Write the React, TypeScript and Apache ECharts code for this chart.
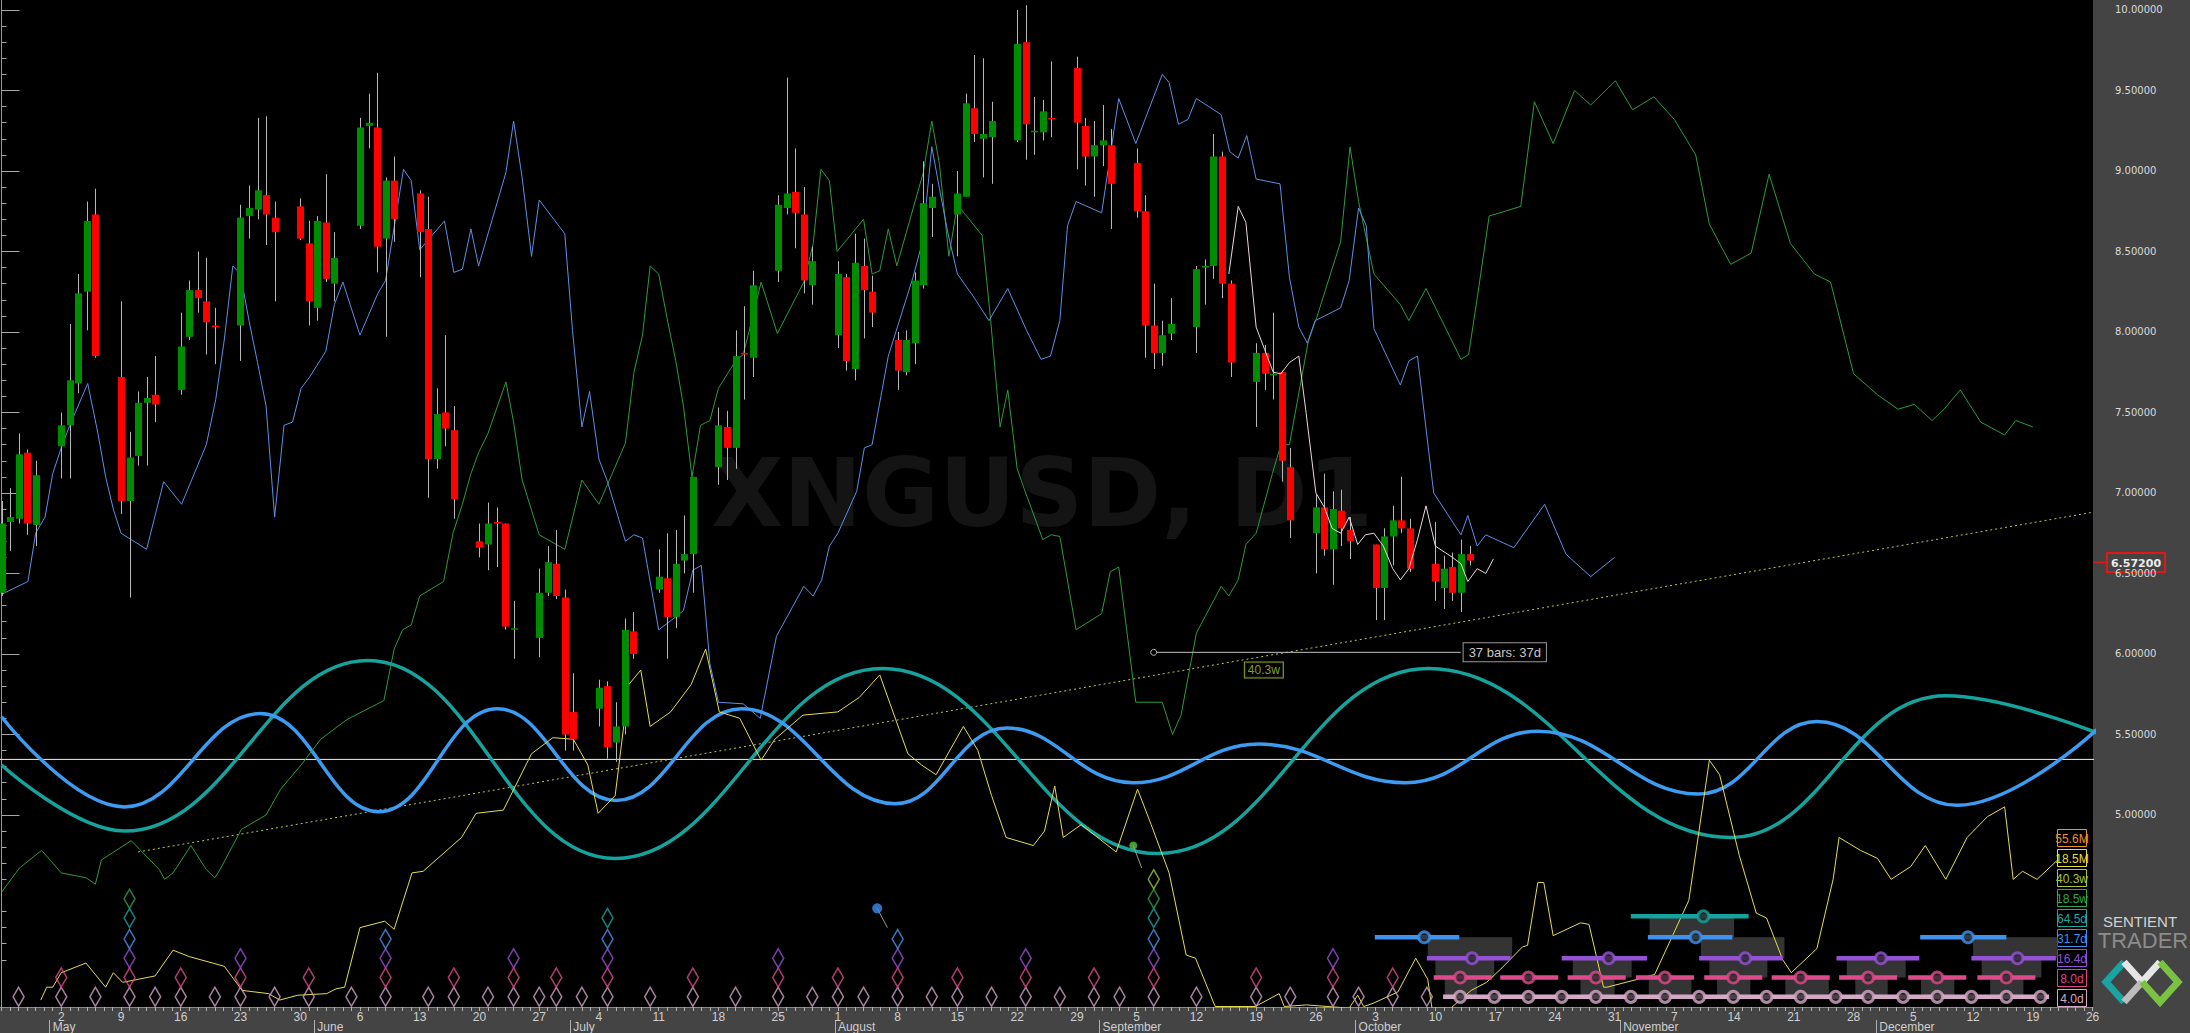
import React, { useEffect, useRef } from "react";
import * as echarts from "echarts";

// ---------- calendar ----------
const BASE = Date.UTC(2022, 3, 25); // day 0 = 25 Apr 2022
const dayOf = (s: string) =>
  Math.round((Date.UTC(2022, +s.slice(0, 2) - 1, +s.slice(3, 5)) - BASE) / 86400000);
const MONTHS = ["January","February","March","April","May","June","July","August","September","October","November","December"];

const X_MIN = -0.176;
const X_MAX = 245.05;
const Y_MIN = 3.807;
const Y_MAX = 10.062;

// ---------- candles ----------
const candleDates = [
  "04-25","04-26","04-27","04-28","04-29",
  "05-02","05-03","05-04","05-05","05-06",
  "05-09","05-10","05-11","05-12","05-13",
  "05-16","05-17","05-18","05-19","05-20",
  "05-23","05-24","05-25","05-26","05-27",
  "05-30","05-31","06-01","06-02","06-03",
  "06-06","06-07","06-08","06-09","06-10",
  "06-13","06-14","06-15","06-16","06-17",
  "06-20","06-21","06-22","06-23","06-24",
  "06-27","06-28","06-29","06-30","07-01",
  "07-04","07-05","07-06","07-07","07-08",
  "07-11","07-12","07-13","07-14","07-15",
  "07-18","07-19","07-20","07-21","07-22",
  "07-25","07-26","07-27","07-28","07-29",
  "08-01","08-02","08-03","08-04","08-05",
  "08-08","08-09","08-10","08-11","08-12",
  "08-15","08-16","08-17","08-18","08-19",
  "08-22","08-23","08-24","08-25","08-26",
  "08-29","08-30","08-31","09-01","09-02",
  "09-05","09-06","09-07","09-08","09-09",
  "09-12","09-13","09-14","09-15","09-16",
  "09-19","09-20","09-21","09-22","09-23",
  "09-26","09-27","09-28","09-29","09-30",
  "10-03","10-04","10-05","10-06","10-07",
  "10-10","10-11","10-12","10-13","10-14",
];
const opens = [
  6.38,6.82,6.84,7.25,6.80, 7.29,7.42,7.68,8.25,8.73, 7.72,6.95,7.23,7.56,7.61,
  7.64,7.97,8.26,8.19,8.04, 8.04,8.72,8.76,8.85,8.71, 8.78,8.55,8.15,8.68,8.30,
  8.66,9.28,9.27,8.58,8.94, 8.86,8.64,7.21,7.50,7.39, 6.70,6.68,6.82,6.81,6.16,
  6.10,6.38,6.56,6.35,5.64, 5.66,5.80,5.45,5.55,6.14, 6.40,6.47,6.23,6.58,6.62,
  7.16,7.41,7.28,7.87,7.84, 8.38,8.77,8.87,8.73,8.29, 7.98,8.34,7.77,8.41,8.25,
  7.95,7.75,7.93,8.29,8.77, 8.73,8.84,9.39,9.20,9.21, 9.19,9.80,9.24,9.24,9.33,
  9.64,9.28,9.09,9.16,9.16, 9.05,8.75,8.04,7.87,7.99, 8.03,8.40,8.41,9.09,8.30,
  7.69,7.87,7.74,7.75,7.16, 6.75,6.91,6.65,6.89,6.77, 6.68,6.41,6.73,6.83,6.78,
  6.56,6.41,6.54,6.38,6.62,
];
const highs = [
  6.95,7.03,7.37,7.27,7.20, 7.50,8.05,8.36,8.81,8.89, 8.19,7.38,7.63,7.72,7.85,
  8.12,8.32,8.50,8.46,8.15, 8.79,8.91,9.33,9.34,8.81, 8.83,8.69,8.72,8.98,8.62,
  9.33,9.48,9.61,8.96,9.09, 8.88,8.84,7.65,7.98,7.54, 6.81,6.94,6.91,6.81,6.33,
  6.53,6.67,6.77,6.40,5.88, 5.84,5.83,5.70,6.22,6.26, 6.65,6.75,6.77,6.86,7.10,
  7.53,7.51,8.01,8.16,8.38, 8.85,9.58,9.14,8.90,8.53, 8.44,8.36,8.61,8.58,8.35,
  8.00,8.01,8.37,9.06,8.92, 9.00,9.48,9.72,9.70,9.43, 10.00,10.03,9.46,9.44,9.68,
  9.71,9.33,9.31,9.41,9.26, 9.14,8.85,8.30,8.07,8.21, 8.41,8.45,9.23,9.12,8.32,
  7.93,7.92,8.12,7.76,7.28, 6.99,7.12,7.01,7.02,6.85, 6.68,6.78,6.92,7.10,6.84,
  6.82,6.61,6.63,6.71,6.67,
];
const lows = [
  6.36,6.64,6.81,6.74,6.67, 7.09,7.09,7.62,8.01,7.84, 6.87,6.35,7.17,7.17,7.44,
  7.61,7.95,8.12,7.86,7.80, 7.82,8.58,8.70,8.54,8.19, 8.57,8.04,8.07,8.31,8.19,
  8.64,9.14,8.37,7.97,8.56, 8.34,6.97,7.15,7.29,6.84, 6.60,6.52,6.54,6.15,5.97,
  5.98,6.36,6.34,5.40,5.40, 5.55,5.35,5.33,5.50,5.97, 6.38,5.97,6.16,6.50,6.38,
  7.05,7.08,7.15,7.58,7.72, 8.31,8.73,8.52,8.24,8.17, 7.90,7.76,7.70,7.96,8.03,
  7.64,7.73,7.80,8.27,8.59, 8.47,8.84,9.18,8.96,8.92, 9.18,9.07,9.10,9.19,9.21,
  9.01,8.91,8.84,9.03,8.64, 8.71,7.84,7.77,7.79,7.95, 7.87,8.17,8.33,8.21,7.72,
  7.41,7.64,7.58,7.07,6.72, 6.50,6.61,6.43,6.67,6.59, 6.21,6.21,6.55,6.75,6.51,
  6.33,6.28,6.33,6.26,6.55,
];
const closes = [
  6.81,6.85,7.24,6.81,7.11, 7.42,7.70,8.24,8.69,7.85, 6.95,7.22,7.56,7.59,7.55,
  7.91,8.26,8.21,8.06,8.03, 8.71,8.77,8.88,8.73,8.62, 8.58,8.19,8.69,8.33,8.46,
  9.27,9.30,8.53,8.94,8.70, 8.62,7.21,7.49,7.40,6.96, 6.66,6.81,6.81,6.17,6.16,
  6.38,6.57,6.36,5.50,5.47, 5.79,5.42,5.55,6.15,6.00, 6.48,6.23,6.56,6.62,7.10,
  7.42,7.28,7.85,7.86,8.29, 8.79,8.86,8.74,8.32,8.44, 8.36,7.82,8.43,8.26,8.12,
  7.76,7.95,8.32,8.80,8.84, 8.86,9.42,9.23,9.23,9.31, 9.79,9.29,9.25,9.37,9.32,
  9.30,9.09,9.16,9.19,8.92, 8.75,8.04,7.87,7.98,8.05, 8.39,8.41,9.09,8.30,7.81,
  7.87,7.74,7.74,7.20,6.83, 6.91,6.65,6.90,6.78,6.70, 6.41,6.73,6.83,6.78,6.53,
  6.45,6.53,6.38,6.62,6.58,
];

// ---------- FLD lines: [day, price] ----------
const blueFld = [[0,6.37],[3.1,6.45],[4,6.75],[5.1,6.85],[6,7.12],[7,7.28],[8,7.42],[10.1,7.68],[11.3,7.37],[12.2,7.10],[13.1,6.90],[14,6.75],[17,6.65],[19,7.07],[21.1,6.93],[24,7.30],[25.1,7.58],[26.1,7.95],[27.1,8.41],[28,8.36],[29,8.07],[30,7.81],[31,7.54],[32,6.85],[33.1,7.42],[34.1,7.44],[35.1,7.65],[36.1,7.72],[38,7.88],[39,8.17],[40,8.31],[42,7.98],[44.1,8.24],[45,8.32],[47.1,9.01],[48,8.94],[49,8.51],[51.9,8.69],[53,8.37],[54,8.39],[55,8.64],[55.9,8.41],[59.1,8.99],[60,9.31],[61,8.96],[62.1,8.47],[63,8.82],[66,8.61],[66.9,8.01],[68,7.41],[68.9,7.63],[70,7.21],[71,7.07],[73.1,6.70],[74.1,6.74],[75.1,6.72],[77,6.15],[79,6.23],[79.9,6.27],[81,6.52],[82,6.55],[83,5.94],[84,5.70],[86.9,5.69],[88.9,5.60],[90.8,6.11],[94,6.42],[95.1,6.36],[96.1,6.46],[97,6.67],[98,6.75],[100.2,7.01],[101.1,7.28],[102,7.30],[103.9,7.85],[106.8,8.34],[107.9,8.56],[109,9.15],[109.9,8.89],[110.9,8.61],[112,8.36],[114,8.21],[115.7,8.07],[117.9,8.27],[120.1,8.01],[121.8,7.83],[122.9,7.85],[124,8.07],[124.9,8.66],[125.9,8.81],[128.9,8.74],[130.9,9.45],[132.9,9.17],[136,9.60],[136.8,9.55],[137.9,9.29],[139,9.32],[140,9.45],[142.9,9.35],[143.9,9.12],[144.9,9.08],[145.9,9.22],[147,8.95],[149.8,8.92],[150.9,8.34],[152,8.03],[153,7.93],[153.9,8.07],[156.9,8.15],[157.9,8.32],[159,8.77],[159.9,8.66],[160.8,8.02],[163.9,7.67],[164.9,7.82],[165.9,7.85],[167.8,7.00],[171,6.74],[171.8,6.86],[172.9,6.67],[173.9,6.74],[177.2,6.66],[180.8,6.93],[183.3,6.62],[186.2,6.48],[189,6.60]];

const greenFld = [[0,4.52],[2.1,4.67],[4.7,4.78],[7,4.64],[9.9,4.61],[11,4.57],[11.7,4.72],[15.2,4.84],[18.5,4.66],[19.1,4.60],[20.1,4.64],[22.2,4.81],[24,4.66],[25,4.61],[25.6,4.66],[28.1,4.91],[31,5.00],[32.7,5.16],[35.1,5.31],[37.4,5.47],[40.4,5.59],[43.3,5.67],[44.8,5.71],[46,6.03],[47,6.15],[48,6.18],[49,6.36],[51.8,6.45],[52.9,6.75],[54,6.93],[55,7.12],[55.9,7.25],[57,7.37],[59.1,7.69],[60,7.44],[61,7.08],[63,6.74],[66,6.65],[68,7.08],[70,6.93],[73.1,7.31],[74.1,7.75],[75.1,7.98],[76,8.41],[77,8.36],[78,8.08],[79,7.82],[79.9,7.54],[80.9,7.10],[81.9,7.42],[83,7.45],[84,7.65],[86,7.82],[86.9,7.86],[88,8.09],[89,8.31],[90.9,7.99],[94,8.31],[95.1,8.55],[96,9.01],[97,8.94],[97.9,8.50],[101,8.70],[102,8.36],[102.9,8.38],[103.9,8.64],[104.9,8.41],[108,8.99],[109,9.31],[109.9,9.04],[111,8.47],[112,8.79],[114.9,8.60],[115.9,8.07],[117,7.41],[117.9,7.64],[119,7.15],[120,7.00],[122,6.71],[123,6.74],[124,6.73],[125.9,6.15],[128.9,6.25],[129.9,6.51],[130.9,6.54],[132.9,5.70],[136,5.70],[137.2,5.50],[138.2,5.62],[140,6.13],[142.9,6.42],[143.8,6.36],[144.9,6.46],[145.8,6.68],[147,6.75],[148.9,7.12],[149.9,7.30],[150.9,7.30],[153.1,7.94],[154.1,8.09],[156.9,8.56],[158,9.15],[159,8.81],[160.8,8.36],[163.9,8.17],[164.9,8.07],[166.9,8.27],[171,7.83],[171.9,7.86],[172.9,8.21],[174.3,8.72],[178,8.78],[179.6,9.43],[181.8,9.17],[184.3,9.50],[186.2,9.41],[189.1,9.56],[191.1,9.38],[193.6,9.46],[196,9.32],[198.5,9.10],[200.1,8.67],[202.6,8.42],[205,8.49],[207.1,8.98],[209.6,8.55],[212.4,8.36],[214.3,8.31],[217,7.74],[219.8,7.61],[222.2,7.52],[224.1,7.55],[226.2,7.45],[227.6,7.52],[229.5,7.64],[231.9,7.44],[234.7,7.36],[236,7.45],[238,7.41]];

const whiteFld = [[143.8,8.36],[144.9,8.78],[145.8,8.68],[147,8.03],[148,7.89],[149,7.75],[149.9,7.74],[150.9,7.81],[152,7.85],[152.8,7.52],[154,7.00],[155,6.91],[155.9,6.78],[156.9,6.75],[157.9,6.85],[158.9,6.68],[159.8,6.74],[160.8,6.75],[161.9,6.67],[163,6.53],[163.9,6.46],[164.9,6.53],[165.9,6.71],[166.9,6.92],[168,6.67],[170,6.60],[171,6.56],[171.8,6.45],[172.9,6.53],[173.9,6.50],[174.8,6.59]];

const yellowFld = [[4.6,3.85],[5.3,3.93],[6,3.93],[7,4.02],[9.9,4.08],[12.2,3.93],[13.1,4.02],[14.2,3.96],[18,4.00],[20.1,4.16],[22,4.12],[26.1,4.06],[28.2,3.91],[31.3,3.89],[32.6,3.85],[34.7,3.88],[38.1,3.89],[39.2,3.92],[40.2,3.93],[42,4.30],[44.9,4.34],[46,4.29],[48.1,4.64],[49.4,4.65],[53.9,4.86],[55.6,5.01],[58.8,5.03],[62.1,5.38],[64.6,5.48],[67,5.47],[68.7,5.31],[69.9,5.01],[71.9,5.12],[73.5,5.81],[74.9,5.90],[76,5.55],[78.4,5.64],[80.8,5.81],[82.5,6.03],[84.1,5.64],[86.5,5.60],[89,5.34],[90.6,5.47],[93.9,5.62],[98,5.64],[100.5,5.73],[102.9,5.87],[106.2,5.38],[107.8,5.31],[109.5,5.25],[112.7,5.55],[114.4,5.40],[116,5.12],[117.7,4.86],[120.9,4.81],[122.2,4.90],[123.4,5.18],[124.4,4.86],[126.5,4.94],[130.6,4.77],[133.1,5.16],[134.7,4.94],[136.8,4.64],[138.8,4.13],[139.9,4.11],[142.2,3.81],[146.9,3.81],[149.7,3.89],[150.3,3.81],[152.9,3.82],[157.9,3.80],[158.9,3.88],[159.6,3.81],[160.7,3.83],[163.6,3.90],[165.7,4.11],[167.1,3.98],[167.6,3.80],[169.8,3.80],[172.2,3.91],[174,3.96],[175.8,4.05],[178.2,4.18],[178.8,4.19],[180,4.58],[180.7,4.58],[181.8,4.25],[185,4.33],[186,4.32],[187.7,3.93],[188.1,3.93],[192.5,3.99],[193.7,4.01],[197.7,4.47],[200.1,5.34],[201.3,5.25],[203.6,4.75],[205.6,4.39],[206.8,4.36],[208.7,4.10],[209.7,4.02],[212.7,4.17],[214.6,4.60],[215.3,4.86],[217.8,4.78],[219.8,4.73],[221.4,4.60],[223.7,4.68],[225.4,4.81],[227.8,4.60],[230.3,4.86],[232.7,4.99],[234.7,5.05],[235.7,4.60],[236.8,4.65],[238.5,4.60],[240.9,4.72]];

// ---------- cycle waves (read extremes) ----------
const tealWave = [[0,5.31],[14.4,4.90],[42.9,5.96],[71.9,4.73],[103.2,5.91],[135.5,4.76],[167.2,5.91],[202.6,4.86],[227.8,5.74],[245.5,5.51]];
const blueWave = [[0,5.61],[14.4,5.05],[30.3,5.63],[44.2,5.02],[58.1,5.66],[72,5.09],[86.7,5.66],[104.7,5.07],[117.8,5.54],[132.6,5.20],[147.3,5.44],[164.5,5.20],[180,5.52],[198.8,5.13],[212.7,5.58],[229.1,5.06],[245.5,5.53]];

const baseLine = 5.345;
const trendLine = [[16,4.77],[245,6.88]];
const measureLine = [[135,6.01],[170.9,6.01]];

// ---------- diamonds (cycle troughs) ----------
const diamondRowPrices = [3.87, 3.99, 4.11, 4.23, 4.36, 4.48, 4.60];
const diamondColors = ["#cfa3c6", "#dd4b8c", "#9552d6", "#4a93ea", "#1fa3a0", "#2f9d4e", "#9cc43a"];
const diamondDays = [
  [2,7,11,15,18,21,25,28,32,36,41,45,50,53,57,60,63,65,68,71,76,81,86,91,95,98,101,105,109,112,116,120,124,128,131,135,140,147,151,156,159,163,167],
  [7,15,21,28,36,45,53,60,65,71,81,91,98,105,112,120,128,135,147,156,163],
  [15,28,45,60,71,91,105,120,135,156],
  [15,45,71,105,135],
  [15,71,135],
  [15,135],
  [135],
];

// ---------- projected cycle bars ----------
const cyclePrices = { c64: 4.37, c31: 4.24, c16: 4.11, c8: 3.99, c4: 3.87 };
const bars64 = [[190.9,204.7]];
const circles64 = [199.4];
const bars31 = [[160.9,170.8],[192.9,202.8],[224.8,234.9]];
const circles31 = [166.7,198.5,230.4];
const bars16 = [[167.0,176.8],[182.8,192.8],[198.9,208.7],[215.0,224.7],[230.8,240.7]];
const circles16 = [172.3,188.3,204.3,220.2,236.2];
const bars8 = [[167.8,174.6],[175.6,182.4],[183.5,190.3],[191.5,198.3],[199.5,206.3],[207.4,214.2],[215.3,222.1],[223.4,230.2],[231.5,238.3]];
const circles8 = [170.9,178.9,186.8,194.9,202.9,210.8,218.7,226.8,234.9];
const bars4 = [[168.9,239.9]];
const circles4 = [170.9,174.9,178.9,182.8,186.8,190.9,194.9,198.9,202.9,206.8,210.8,214.9,218.7,222.8,226.8,230.8,234.9,238.9];
const shadeBoxes = [
  [167.1,177.0,4.24,4.11],[168.0,174.9,4.11,3.99],[169.1,172.9,3.99,3.86],
  [184.1,191.0,4.11,3.99],[185.0,189.0,3.99,3.86],
  [193.1,203.0,4.37,4.24],[199.1,208.9,4.24,4.11],[200.1,206.9,4.11,3.99],[201.0,204.9,3.99,3.86],
  [193.0,198.0,3.99,3.86],[209.0,214.1,3.99,3.86],
  [216.2,223.1,4.11,3.99],[217.2,221.0,3.99,3.86],[224.9,228.8,3.99,3.86],
  [231.0,240.9,4.24,4.11],[232.0,239.0,4.11,3.99],[233.0,236.9,3.99,3.86],
];

// ---------- axis ticks ----------
const xTickDates = ["05-02","05-09","05-16","05-23","05-30","06-06","06-13","06-20","06-27","07-04","07-11","07-18","07-25","08-01","08-08","08-15","08-22","08-29","09-05","09-12","09-19","09-26","10-03","10-10","10-17","10-24","10-31","11-07","11-14","11-21","11-28","12-05","12-12","12-19","12-26"];
const monthDates = ["05-01","06-01","07-01","08-01","09-01","10-01","11-01","12-01"];
const priceLabels = [5.0,5.5,6.0,6.5,7.0,7.5,8.0,8.5,9.0,9.5,10.0];
const lastPrice = 6.572;

const legendItems = [
  ["55.6M", "#e8922a"], ["18.5M", "#e6dc3c"], ["40.3w", "#a9c83a"], ["18.5w", "#2fa84a"],
  ["64.5d", "#1fa7a0"], ["31.7d", "#3d93ef"], ["16.4d", "#9552d6"], ["8.0d", "#e0448a"], ["4.0d", "#d6a8c8"],
];

const NARROW = "'Liberation Sans Narrow','Liberation Sans',Arial,sans-serif";

function buildOption() {
  const allDays: number[] = [];
  for (let d = 0; d <= 245; d++) allDays.push(d);
  const minorPrices: number[] = [];
  for (let k = 41; k <= 100; k++) if (k % 5 !== 0) minorPrices.push(k / 10);
  const mondays = xTickDates.map(dayOf);
  const monthTicks = monthDates.map((s) => dayOf(s) - 0.35);

  const candleData = candleDates.map((s, i) => [dayOf(s), opens[i], highs[i], lows[i], closes[i]]);

  const thinLine = (name: string, data: number[][], color: string, width = 1, z = 4, extra: any = {}) => ({
    name, type: "line", data, showSymbol: false, symbol: "none", z,
    lineStyle: { color, width }, xAxisIndex: 0, yAxisIndex: 0, silent: true, ...extra,
  });

  const series: any[] = [];

  // shaded boxes
  series.push({
    type: "custom", xAxisIndex: 0, yAxisIndex: 0, z: 2, clip: true, silent: true,
    data: shadeBoxes,
    renderItem: (p: any, api: any) => {
      const a = api.coord([api.value(0), api.value(2)]);
      const b = api.coord([api.value(1), api.value(3)]);
      return { type: "rect", shape: { x: a[0], y: a[1], width: b[0] - a[0], height: b[1] - a[1] }, style: { fill: "#343434" } };
    },
  });

  // base horizontal line
  series.push(thinLine("base", [[X_MIN - 1, baseLine], [X_MAX + 1, baseLine]], "#f2f2f2", 1, 3));
  // trend line
  series.push(thinLine("trend", trendLine, "#b9c94e", 1, 3, { lineStyle: { color: "#b9c94e", width: 1, type: [2, 3] } }));

  // waves
  series.push(thinLine("teal", tealWave, "#16a39e", 3.5, 3, { smooth: 0.42 }));
  series.push(thinLine("blue", blueWave, "#3c9cf2", 3.5, 3, { smooth: 0.42 }));

  // FLDs
  series.push(thinLine("yellow", yellowFld, "#e5dc52", 1, 4));
  series.push(thinLine("green", greenFld, "#2e9a3e", 1, 4));
  series.push(thinLine("blueFld", blueFld, "#5f8fe6", 1, 4));
  series.push(thinLine("white", whiteFld, "#ead7df", 1, 6));

  // candles
  series.push({
    type: "custom", xAxisIndex: 0, yAxisIndex: 0, z: 5, clip: true, silent: true,
    data: candleData,
    encode: { x: 0, y: [1, 2, 3, 4] },
    renderItem: (p: any, api: any) => {
      const d = api.value(0), o = api.value(1), h = api.value(2), l = api.value(3), c = api.value(4);
      const x = Math.round(api.coord([d, o])[0]) + 0.5;
      const yo = api.coord([d, o])[1], yc = api.coord([d, c])[1];
      const yh = api.coord([d, h])[1], yl = api.coord([d, l])[1];
      const top = Math.min(yo, yc);
      const hh = Math.max(1.5, Math.abs(yo - yc));
      return {
        type: "group",
        children: [
          { type: "line", shape: { x1: x, y1: yh, x2: x, y2: yl }, style: { stroke: "#b8b8b8", lineWidth: 1 } },
          { type: "rect", shape: { x: x - 3.5, y: top, width: 7, height: hh }, style: { fill: c >= o ? "#008c00" : "#ff0000" } },
        ],
      };
    },
  });

  // measure line with label
  series.push({
    type: "line", xAxisIndex: 0, yAxisIndex: 0, z: 6, silent: true,
    showSymbol: true, showAllSymbol: true,
    data: [
      { value: measureLine[0], symbol: "circle", symbolSize: 6, itemStyle: { color: "#000", borderColor: "#bbb", borderWidth: 1 } },
      {
        value: measureLine[1], symbol: "circle", symbolSize: 1,
        itemStyle: { color: "#c0c0c0", borderWidth: 0 },
        label: {
          show: true, position: "right", formatter: "37 bars: 37d", color: "#c8c8c8", fontSize: 13,
          fontFamily: "'Liberation Sans',Arial,sans-serif",
          backgroundColor: "#000", borderColor: "#9a9a9a", borderWidth: 1, padding: [3, 5, 2, 5], distance: 3,
        },
      },
    ],
    lineStyle: { color: "#c0c0c0", width: 1 },
  });

  // 40.3w tag
  series.push({
    type: "scatter", xAxisIndex: 0, yAxisIndex: 0, z: 6, silent: true, symbolSize: 0,
    data: [[147.9, 5.90]],
    label: {
      show: true, position: "inside", formatter: "40.3w", color: "#a9c83a", fontSize: 12,
      fontFamily: "'Liberation Sans',Arial,sans-serif",
      backgroundColor: "#000", borderColor: "#a9c83a", borderWidth: 1, padding: [2, 3, 1, 3],
    },
  });

  // diamonds
  diamondDays.forEach((days, r) => {
    series.push({
      type: "scatter", xAxisIndex: 0, yAxisIndex: 0, z: 7, silent: true,
      symbol: "diamond", symbolSize: [11, 19],
      data: days.map((d) => [d, diamondRowPrices[r]]),
      itemStyle: { color: "rgba(0,0,0,0)", borderColor: diamondColors[r], borderWidth: 1.6 },
    });
  });

  // dots with connectors
  series.push(thinLine("dotLink1", [[102.6, 4.42], [103.8, 4.30]], "#9a9a9a", 1, 7));
  series.push(thinLine("dotLink2", [[132.6, 4.81], [133.6, 4.67]], "#9a9a9a", 1, 7));
  series.push({
    type: "scatter", xAxisIndex: 0, yAxisIndex: 0, z: 8, silent: true, symbol: "circle",
    data: [
      { value: [102.6, 4.42], symbolSize: 10, itemStyle: { color: "#3a8fec" } },
      { value: [132.6, 4.81], symbolSize: 8, itemStyle: { color: "#5bbf4a" } },
    ],
  });

  // cycle bars
  const barSets: [number[][], number[], number, string][] = [
    [bars64, circles64, cyclePrices.c64, "#16a39e"],
    [bars31, circles31, cyclePrices.c31, "#3d93ef"],
    [bars16, circles16, cyclePrices.c16, "#9552d6"],
    [bars8, circles8, cyclePrices.c8, "#de4a8c"],
    [bars4, circles4, cyclePrices.c4, "#d6a8c8"],
  ];
  barSets.forEach(([bars, circles, price, color]) => {
    series.push({
      type: "custom", xAxisIndex: 0, yAxisIndex: 0, z: 8, clip: true, silent: true,
      data: bars.map((b) => [b[0], b[1], price]),
      renderItem: (p: any, api: any) => {
        const a = api.coord([api.value(0), api.value(2)]);
        const b = api.coord([api.value(1), api.value(2)]);
        return { type: "line", shape: { x1: a[0], y1: a[1], x2: b[0], y2: b[1] }, style: { stroke: color, lineWidth: 4.5 } };
      },
    });
    series.push({
      type: "scatter", xAxisIndex: 0, yAxisIndex: 0, z: 9, silent: true, symbol: "circle", symbolSize: 11,
      data: circles.map((d) => [d, price]),
      itemStyle: { color: "#262626", borderColor: color, borderWidth: 3 },
    });
  });

  const graphics: any[] = [];
  graphics.push({
    type: "text", z: 1, silent: true,
    style: { text: "XNGUSD, D1", x: 1042, y: 493, align: "center", verticalAlign: "middle", fill: "#141414", font: "bold 94px 'DejaVu Sans'" },
  });
  legendItems.forEach(([label, color], i) => {
    const yc = 838 + i * 20;
    graphics.push({
      type: "group", z: 50, silent: true,
      children: [
        { type: "rect", shape: { x: 2057.5, y: yc - 8.5, width: 29, height: 17 }, style: { fill: "#000", stroke: color, lineWidth: 1 } },
        { type: "text", style: { text: label, x: 2072, y: yc + 0.5, align: "center", verticalAlign: "middle", fill: color, font: `12px ${NARROW}` } },
      ],
    });
  });
  // last price tag
  graphics.push({
    type: "group", z: 60, silent: true,
    children: [
      { type: "line", shape: { x1: 2093, y1: 562.5, x2: 2108, y2: 562.5 }, style: { stroke: "#e01818", lineWidth: 1.5 } },
      { type: "rect", shape: { x: 2107, y: 553, width: 58, height: 19 }, style: { fill: "#444", stroke: "#e01818", lineWidth: 2 } },
      { type: "text", style: { text: lastPrice.toFixed(5), x: 2136, y: 563, align: "center", verticalAlign: "middle", fill: "#ececec", font: "bold 11px 'DejaVu Sans'" } },
    ],
  });
  // logo
  graphics.push({
    type: "group", z: 60, silent: true,
    children: [
      { type: "text", style: { text: "SENTIENT", x: 2140, y: 921, align: "center", verticalAlign: "middle", fill: "#d2d2d2", font: "15px 'Liberation Sans'" } },
      { type: "text", style: { text: "TRADER", x: 2143, y: 940, align: "center", verticalAlign: "middle", fill: "#8c8c8c", font: "22px 'Liberation Sans'" } },
      { type: "polyline", shape: { points: [[2124, 962], [2106, 982], [2124, 1002]] }, style: { stroke: "#1aa3a3", lineWidth: 7, fill: "none" } },
      { type: "polyline", shape: { points: [[2124, 962], [2142, 982], [2160, 962]] }, style: { stroke: "#e6e6e6", lineWidth: 7, fill: "none" } },
      { type: "polyline", shape: { points: [[2124, 1002], [2142, 982]] }, style: { stroke: "#bdbdbd", lineWidth: 7, fill: "none" } },
      { type: "polyline", shape: { points: [[2160, 962], [2178, 982], [2160, 1002], [2142, 982]] }, style: { stroke: "#7cc242", lineWidth: 7, fill: "none" } },
    ],
  });

  return {
    animation: false,
    backgroundColor: "#444444",
    grid: { left: 0, top: 0, width: 2093, height: 1007, show: true, backgroundColor: "#000", borderWidth: 0, containLabel: false },
    xAxis: [
      {
        type: "value", min: X_MIN, max: X_MAX, position: "bottom",
        axisLine: { show: true, lineStyle: { color: "#8a8a8a", width: 1 } },
        axisTick: { show: true, customValues: allDays, length: 4, lineStyle: { color: "#b0b0b0" } },
        axisLabel: {
          customValues: mondays, color: "#cfcfcf", fontSize: 12, margin: 4, fontFamily: NARROW,
          formatter: (v: number) => String(new Date(BASE + Math.round(v) * 86400000).getUTCDate()),
        },
        splitLine: { show: false },
      },
      {
        type: "value", min: X_MIN, max: X_MAX, position: "bottom", offset: 13,
        axisLine: { show: false },
        axisTick: { show: true, customValues: monthTicks, length: 13, lineStyle: { color: "#b0b0b0" } },
        axisLabel: {
          customValues: monthTicks, color: "#cfcfcf", fontSize: 12, margin: 1, align: "left", padding: [0, 0, 0, 3], fontFamily: NARROW,
          formatter: (v: number) => MONTHS[new Date(BASE + Math.round(v + 0.35) * 86400000).getUTCMonth()],
        },
        splitLine: { show: false },
      },
    ],
    yAxis: [
      {
        type: "value", min: Y_MIN, max: Y_MAX, position: "right",
        axisLine: { show: true, lineStyle: { color: "#9a9a9a" } },
        axisTick: { show: true, customValues: priceLabels, length: 18, lineStyle: { color: "#a8a8a8" } },
        axisLabel: {
          customValues: priceLabels, color: "#dadada", fontSize: 10, margin: 22, fontFamily: "'DejaVu Sans',sans-serif",
          formatter: (v: number) => v.toFixed(5),
        },
        splitLine: { show: false },
      },
      {
        type: "value", min: Y_MIN, max: Y_MAX, position: "right",
        axisLine: { show: false },
        axisTick: { show: true, customValues: minorPrices, length: 5, lineStyle: { color: "#a8a8a8" } },
        axisLabel: { show: false },
        splitLine: { show: false },
      },
    ],
    series,
    graphic: graphics,
  };
}

export default function App() {
  const ref = useRef<HTMLDivElement>(null);
  useEffect(() => {
    if (!ref.current) return;
    const chart = echarts.init(ref.current, null, { renderer: "svg" });
    chart.setOption(buildOption() as any);
    return () => chart.dispose();
  }, []);
  return <div ref={ref} style={{ position: "fixed", left: 0, top: 0, width: 2190, height: 1033, background: "#000" }} />;
}
